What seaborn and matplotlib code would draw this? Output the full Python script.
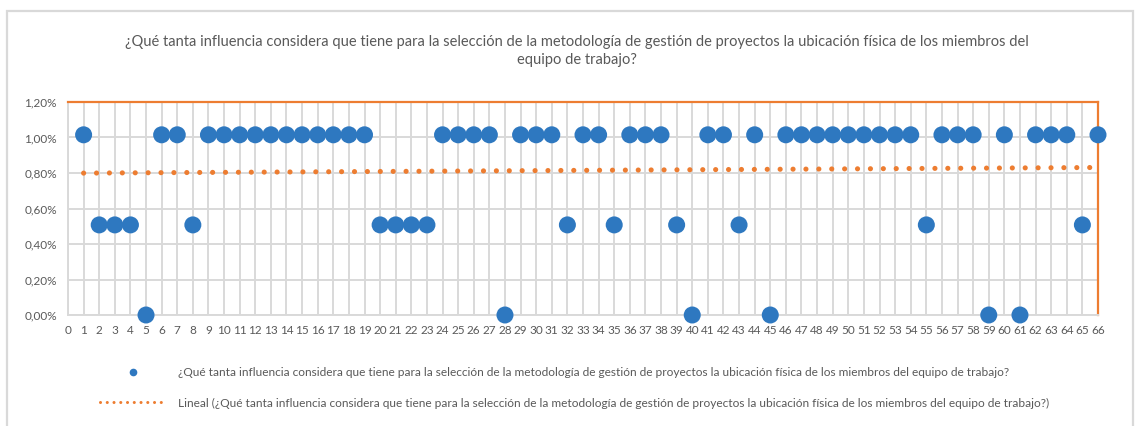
import numpy as np
import pandas as pd
import seaborn as sns
import matplotlib
matplotlib.use("Agg")
import matplotlib.pyplot as plt
from matplotlib.lines import Line2D
from matplotlib.patches import Rectangle
from matplotlib.ticker import FuncFormatter, MultipleLocator

# Respondent number and the share (in %) given to each answer
respondent = list(range(1, 67))
share_pct = [
    1.0152, 0.5076, 0.5076, 0.5076, 0.0, 1.0152, 1.0152, 0.5076, 1.0152, 1.0152,
    1.0152, 1.0152, 1.0152, 1.0152, 1.0152, 1.0152, 1.0152, 1.0152, 1.0152, 0.5076,
    0.5076, 0.5076, 0.5076, 1.0152, 1.0152, 1.0152, 1.0152, 0.0, 1.0152, 1.0152,
    1.0152, 0.5076, 1.0152, 1.0152, 0.5076, 1.0152, 1.0152, 1.0152, 0.5076, 0.0,
    1.0152, 1.0152, 0.5076, 1.0152, 0.0, 1.0152, 1.0152, 1.0152, 1.0152, 1.0152,
    1.0152, 1.0152, 1.0152, 1.0152, 0.5076, 1.0152, 1.0152, 1.0152, 0.0, 1.0152,
    0.0, 1.0152, 1.0152, 1.0152, 0.5076, 1.0152,
]

question = ("¿Qué tanta influencia considera que tiene para la selección de la metodología "
            "de gestión de proyectos la ubicación física de los miembros del equipo de trabajo?")
title_text = ("¿Qué tanta influencia considera que tiene para la selección de la metodología "
              "de gestión de proyectos la ubicación física de los miembros del\nequipo de trabajo?")
trend_label = "Lineal (" + question + ")"

df = pd.DataFrame({"respondent": respondent, "share": share_pct})

BLUE = "#2E78C0"
ORANGE = "#ED7D31"
GRID = "#D9D9D9"
TEXT = "#595959"

sns.set_theme(style="white")
plt.rcParams["font.family"] = ["Lato", "DejaVu Sans"]

W, H = 1137, 426
fig = plt.figure(figsize=(W / 100, H / 100), dpi=100)
ax = fig.add_axes([68 / W, 111 / H, (1098 - 68) / W, (315 - 102) / H])

# Linear trend over the responses
sns.regplot(data=df, x="respondent", y="share", ax=ax, scatter=False, ci=None,
            line_kws=dict(color=ORANGE, lw=3.7, linestyle=(0, (0.01, 2.5)),
                          dash_capstyle="round", zorder=2))

# Individual responses
sns.scatterplot(data=df, x="respondent", y="share", ax=ax, s=150, color=BLUE,
                edgecolor="none", linewidth=0, zorder=3, clip_on=False, legend=False)

ax.set_xlim(0, 66)
ax.set_ylim(0, 1.2)
ax.xaxis.set_major_locator(MultipleLocator(1))
ax.yaxis.set_major_locator(MultipleLocator(0.2))
ax.yaxis.set_major_formatter(FuncFormatter(lambda v, _: f"{v:.2f}%".replace(".", ",")))
ax.xaxis.set_major_formatter(FuncFormatter(lambda v, _: f"{int(round(v))}"))
ax.set_xlabel("")
ax.set_ylabel("")

ax.grid(True, axis="both", color=GRID, lw=1.4, zorder=0)
ax.set_axisbelow(True)
ax.tick_params(axis="both", length=0, labelsize=8.5, labelcolor=TEXT)
ax.tick_params(axis="x", pad=7)
ax.tick_params(axis="y", pad=8)

for side in ("left", "bottom"):
    ax.spines[side].set_color(GRID)
    ax.spines[side].set_linewidth(1.4)
for side in ("top", "right"):
    ax.spines[side].set_color(ORANGE)
    ax.spines[side].set_linewidth(1.6)

fig.text(577 / W, 1 - 51 / H, title_text, ha="center", va="center", fontsize=10.5,
         color=TEXT, linespacing=1.3)

handles = [
    Line2D([], [], marker="o", ls="none", color=BLUE, markersize=5.5, markeredgewidth=0),
    Line2D([], [], color=ORANGE, lw=2.2, linestyle=(0, (0.01, 2.2)), dash_capstyle="round"),
]
fig.legend(handles=handles, labels=[question, trend_label], loc="upper left",
           bbox_to_anchor=(100 / W, 1 - 367 / H), frameon=False, fontsize=8.55,
           labelcolor=TEXT, handlelength=5.6, handletextpad=1.0, labelspacing=1.65,
           borderpad=0, borderaxespad=0)

# Chart area frame
fig.patches.append(Rectangle((7 / W, -0.1), (1133 - 7) / W, 0.1 + (H - 11) / H,
                             transform=fig.transFigure, fill=False, ec=GRID, lw=1.6))

fig.savefig("out.png", dpi=100)
